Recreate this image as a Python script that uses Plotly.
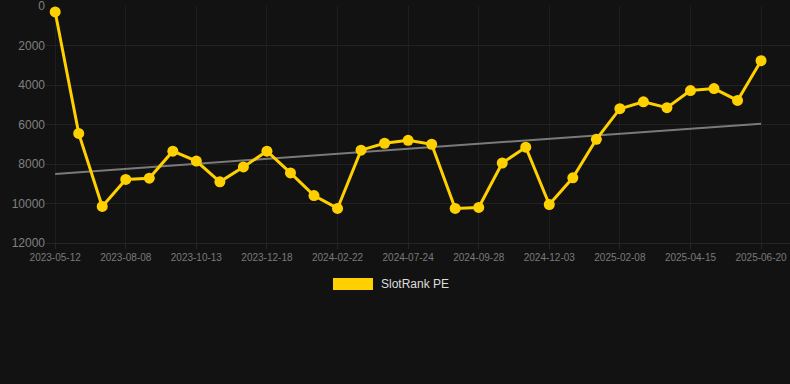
import plotly.graph_objects as go

dates = ["2023-05-12", "2023-06-15", "2023-07-17", "2023-08-08", "2023-08-30", "2023-09-21",
         "2023-10-13", "2023-11-04", "2023-11-26", "2023-12-18", "2024-01-09", "2024-01-31",
         "2024-02-22", "2024-04-12", "2024-06-02", "2024-07-24", "2024-08-15", "2024-09-06",
         "2024-09-28", "2024-10-20", "2024-11-11", "2024-12-03", "2024-12-25", "2025-01-17",
         "2025-02-08", "2025-03-02", "2025-03-24", "2025-04-15", "2025-05-07", "2025-05-29",
         "2025-06-20"]
rank = [300, 6450, 10150, 8780, 8720, 7350, 7850, 8900, 8150, 7350, 8450, 9600,
        10250, 7300, 6950, 6800, 7000, 10250, 10200, 7950, 7150, 10050, 8700, 6750,
        5200, 4850, 5150, 4280, 4180, 4780, 2770]
trend_x = [dates[0], dates[-1]]
trend_y = [8500, 5960]
tick_labels = dates[::3]
y_ticks = [0, 2000, 4000, 6000, 8000, 10000, 12000]

fig = go.Figure()
fig.add_trace(go.Scatter(x=trend_x, y=trend_y, mode="lines",
                         line=dict(color="#7a7a7a", width=2), showlegend=False,
                         hoverinfo="skip"))
fig.add_trace(go.Scatter(x=dates, y=rank, mode="lines+markers", name="SlotRank PE",
                         line=dict(color="#ffd000", width=3),
                         marker=dict(color="#ffd000", size=11),
                         cliponaxis=False, showlegend=False))

fig.update_layout(
    width=790, height=384,
    margin=dict(l=46, r=0, t=6, b=141),
    paper_bgcolor="#121212", plot_bgcolor="#121212",
    font=dict(family="Liberation Sans, Arial, sans-serif", color="#808080", size=11),
    xaxis=dict(type="category", categoryorder="array", categoryarray=dates,
               range=[-0.39, 31.23], tickmode="array", tickvals=tick_labels,
               ticktext=tick_labels, showgrid=True, gridcolor="#1e1e1e",
               zeroline=False, showline=True, linecolor="#262626", linewidth=1,
               tickfont=dict(size=10, color="#7a7a7a"),
               ticks="outside", ticklen=5, tickcolor="#262626", fixedrange=True),
    yaxis=dict(range=[12000, 0], tickmode="array", tickvals=y_ticks,
               ticktext=[str(v) for v in y_ticks], showgrid=True, gridcolor="#222222",
               zeroline=False, showline=False, tickfont=dict(size=12, color="#808080"),
               ticks="", fixedrange=True, automargin=False, ticklabeloverflow="allow"),
    showlegend=False,
)

fig.add_shape(type="rect", xref="paper", yref="paper",
              x0=(333 - 46) / 744, x1=(373 - 46) / 744,
              y0=(243 - 290) / 237, y1=(243 - 278) / 237,
              fillcolor="#ffd000", line=dict(width=0))
fig.add_annotation(xref="paper", yref="paper", x=(379 - 46) / 744, y=(243 - 284) / 237,
                   text="SlotRank PE", showarrow=False, xanchor="left", yanchor="middle",
                   font=dict(size=12, color="#dddddd"))

fig.write_html("out.html", config={"displayModeBar": False},
               post_script="document.body.style.margin='0';document.body.style.background='#121212';")
